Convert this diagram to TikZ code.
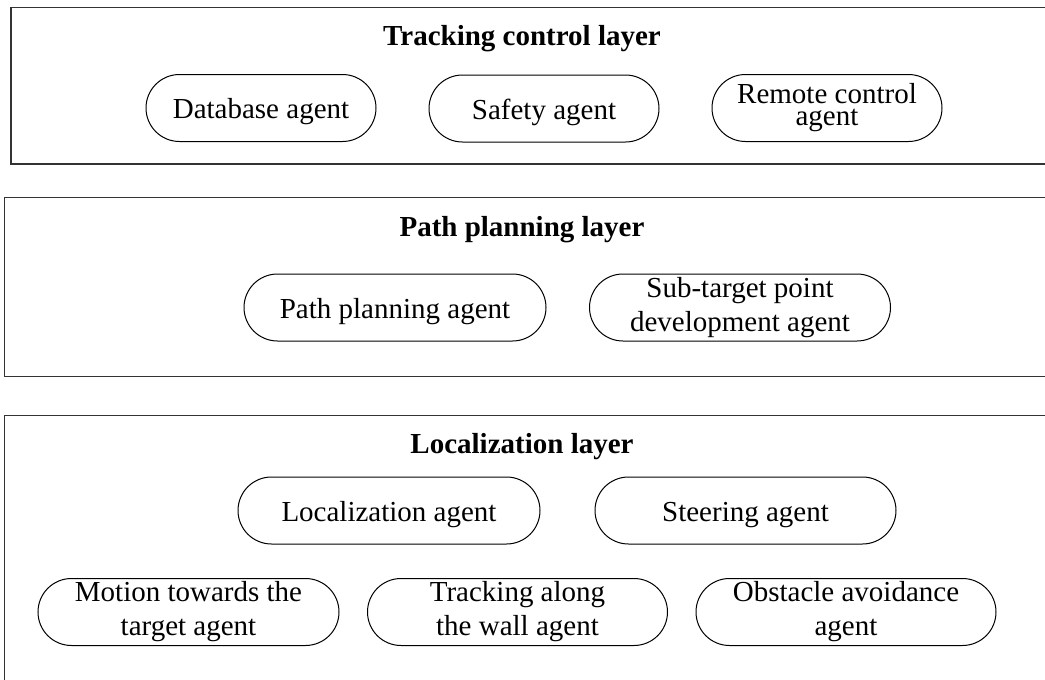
\documentclass[tikz,border=0pt]{standalone}
\usepackage{fontspec}
\setmainfont{Liberation Serif}
\usetikzlibrary{shapes.misc}
\tikzset{
    layer/.style = {
        draw       = black!80,
        line width = 1.4pt,
    },
    agent/.style = {
        rounded rectangle,
        draw,
        line width      = 1pt,
        minimum height  = 67pt,
        inner sep       = 0pt,
        align           = center,
        font            = \fontsize{29}{34}\selectfont,
    },
    oneline/.style = {
        text height = 21pt,
        text depth  = 0pt,
    },
    title/.style = {
        inner sep = 0pt,
        font      = \fontsize{29}{34}\selectfont\bfseries,
    }
}

\begin{document}
\begin{tikzpicture}[x=1pt, y=-1pt]
  % The layer boxes run past the right edge, so we clip to the page.
  \path[use as bounding box] (0,0) rectangle (1045,680);
  \clip (0,0) rectangle (1045,680);

  % layers
  \draw[layer] (11,7.5) rectangle (1060,164);
  \draw[layer] (4.5,197.5) rectangle (1060,376.5);
  \draw[layer] (4.5,415.5) rectangle (1060,700);

  \node[title] (tcl) at (522,39) {Tracking control layer};
  \node[title] (ppl) at (522,230) {Path planning layer};
  \node[title] (lcl) at (522,447) {Localization layer};

  % tracking control layer
  \node[agent, oneline, minimum width=230pt] (db) at (261,108) {Database agent};
  \node[agent, oneline, minimum width=230pt] (safe) at (544,108.5) {Safety agent};
  \node[agent, minimum width=230pt, font=\fontsize{29}{22}\selectfont]
    (remote) at (827,108) {Remote control\\agent};

  % path planning layer
  \node[agent, oneline, minimum width=302pt] (ppa) at (395,307.5) {Path planning agent};
  \node[agent, minimum width=301pt] (sub) at (740,307.5)
    {Sub-target point\\development agent};

  % localization layer
  \node[agent, oneline, minimum width=302pt] (loc) at (389,510.5) {Localization agent};
  \node[agent, oneline, minimum width=301pt] (steer) at (745.5,510.5) {Steering agent};
  \node[agent, minimum width=301pt] (motion) at (188.5,612)
    {Motion towards the\\target agent};
  \node[agent, minimum width=300pt] (wall) at (517.5,612)
    {Tracking along\\the wall agent};
  \node[agent, minimum width=300pt] (obst) at (846,612)
    {Obstacle avoidance\\agent};
\end{tikzpicture}
\end{document}
